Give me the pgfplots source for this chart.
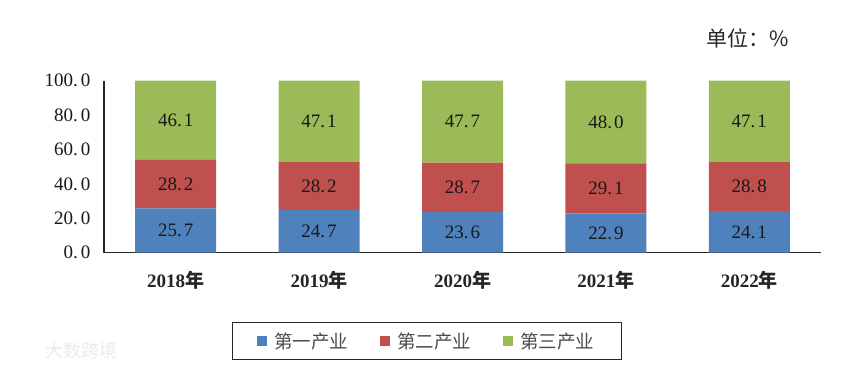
\documentclass[border=0pt]{standalone}
\usepackage{pgfplots}
\pgfplotsset{compat=1.18}
\usepackage{fontspec}
\setmainfont{Liberation Serif}
\newfontfamily\cjk{Noto Sans CJK SC}
\definecolor{cblue}{HTML}{4F81BD}
\definecolor{cred}{HTML}{C0504D}
\definecolor{cgreen}{HTML}{9BBB59}
\begin{document}
\begin{tikzpicture}
\useasboundingbox (0,0) rectangle (865pt,371pt);
\begin{axis}[
  at={(104pt,118.3pt)}, anchor=south west,
  scale only axis, width=717pt, height=172pt,
  xmin=-0.5, xmax=4.5, ymin=0, ymax=100,
  clip=false,
  ybar stacked, bar width=81pt,
  axis x line=bottom, axis y line=left,
  axis line style={-, black!85, line width=1.1pt},
  xtick={0,1,2,3,4},
  xticklabels={2018{\cjk 年},2019{\cjk 年},2020{\cjk 年},2021{\cjk 年},2022{\cjk 年}},
  ytick={0,20,40,60,80,100},
  major tick length=0pt,
  /pgf/number format/assume math mode=true,
  yticklabel style={/pgf/number format/fixed, /pgf/number format/fixed zerofill,
    /pgf/number format/precision=1, /pgf/number format/set decimal separator={.\kern3pt},
    font=\fontsize{19}{19}\selectfont, text=black!90, xshift=-10pt},
  xticklabel style={font=\bfseries\fontsize{19}{19}\selectfont, text=black!85, yshift=-15pt},
  visualization depends on={rawy \as \rawy},
  nodes near coords={\pgfmathprintnumber[fixed,fixed zerofill,precision=1,set decimal separator={.\kern2pt},assume math mode=true]{\rawy}},
  every node near coord/.append style={anchor=center, font=\fontsize{19}{19}\selectfont, text=black!90},
  legend style={at={(0.45,-0.403)}, anchor=north, legend columns=3, draw=black!85, line width=1pt,
    font=\cjk\fontsize{18.5}{18.5}\selectfont, text=black!70,
    /tikz/every even column/.append style={column sep=30pt},
    inner xsep=25pt, inner ysep=8pt},
  legend image code/.code={\fill[#1] (0pt,-5pt) rectangle (10pt,5pt); \path (15pt,0pt);},
]
\addplot[fill=cblue, draw=none] coordinates {(0,25.7) (1,24.7) (2,23.6) (3,22.9) (4,24.1)};
\addplot[fill=cred, draw=none] coordinates {(0,28.2) (1,28.2) (2,28.7) (3,29.1) (4,28.8)};
\addplot[fill=cgreen, draw=none] coordinates {(0,46.1) (1,47.1) (2,47.7) (3,48.0) (4,47.1)};
\legend{第一产业,第二产业,第三产业}
\node[anchor=base west, font=\cjk\fontsize{21}{21}\selectfont, text=black!85] at (rel axis cs:0.835,1.2) {单位：\%};
\end{axis}
\node[anchor=west, text=black!8, font=\cjk\fontsize{18}{18}\selectfont] at (42pt,20pt) {大数跨境};
\end{tikzpicture}
\end{document}
